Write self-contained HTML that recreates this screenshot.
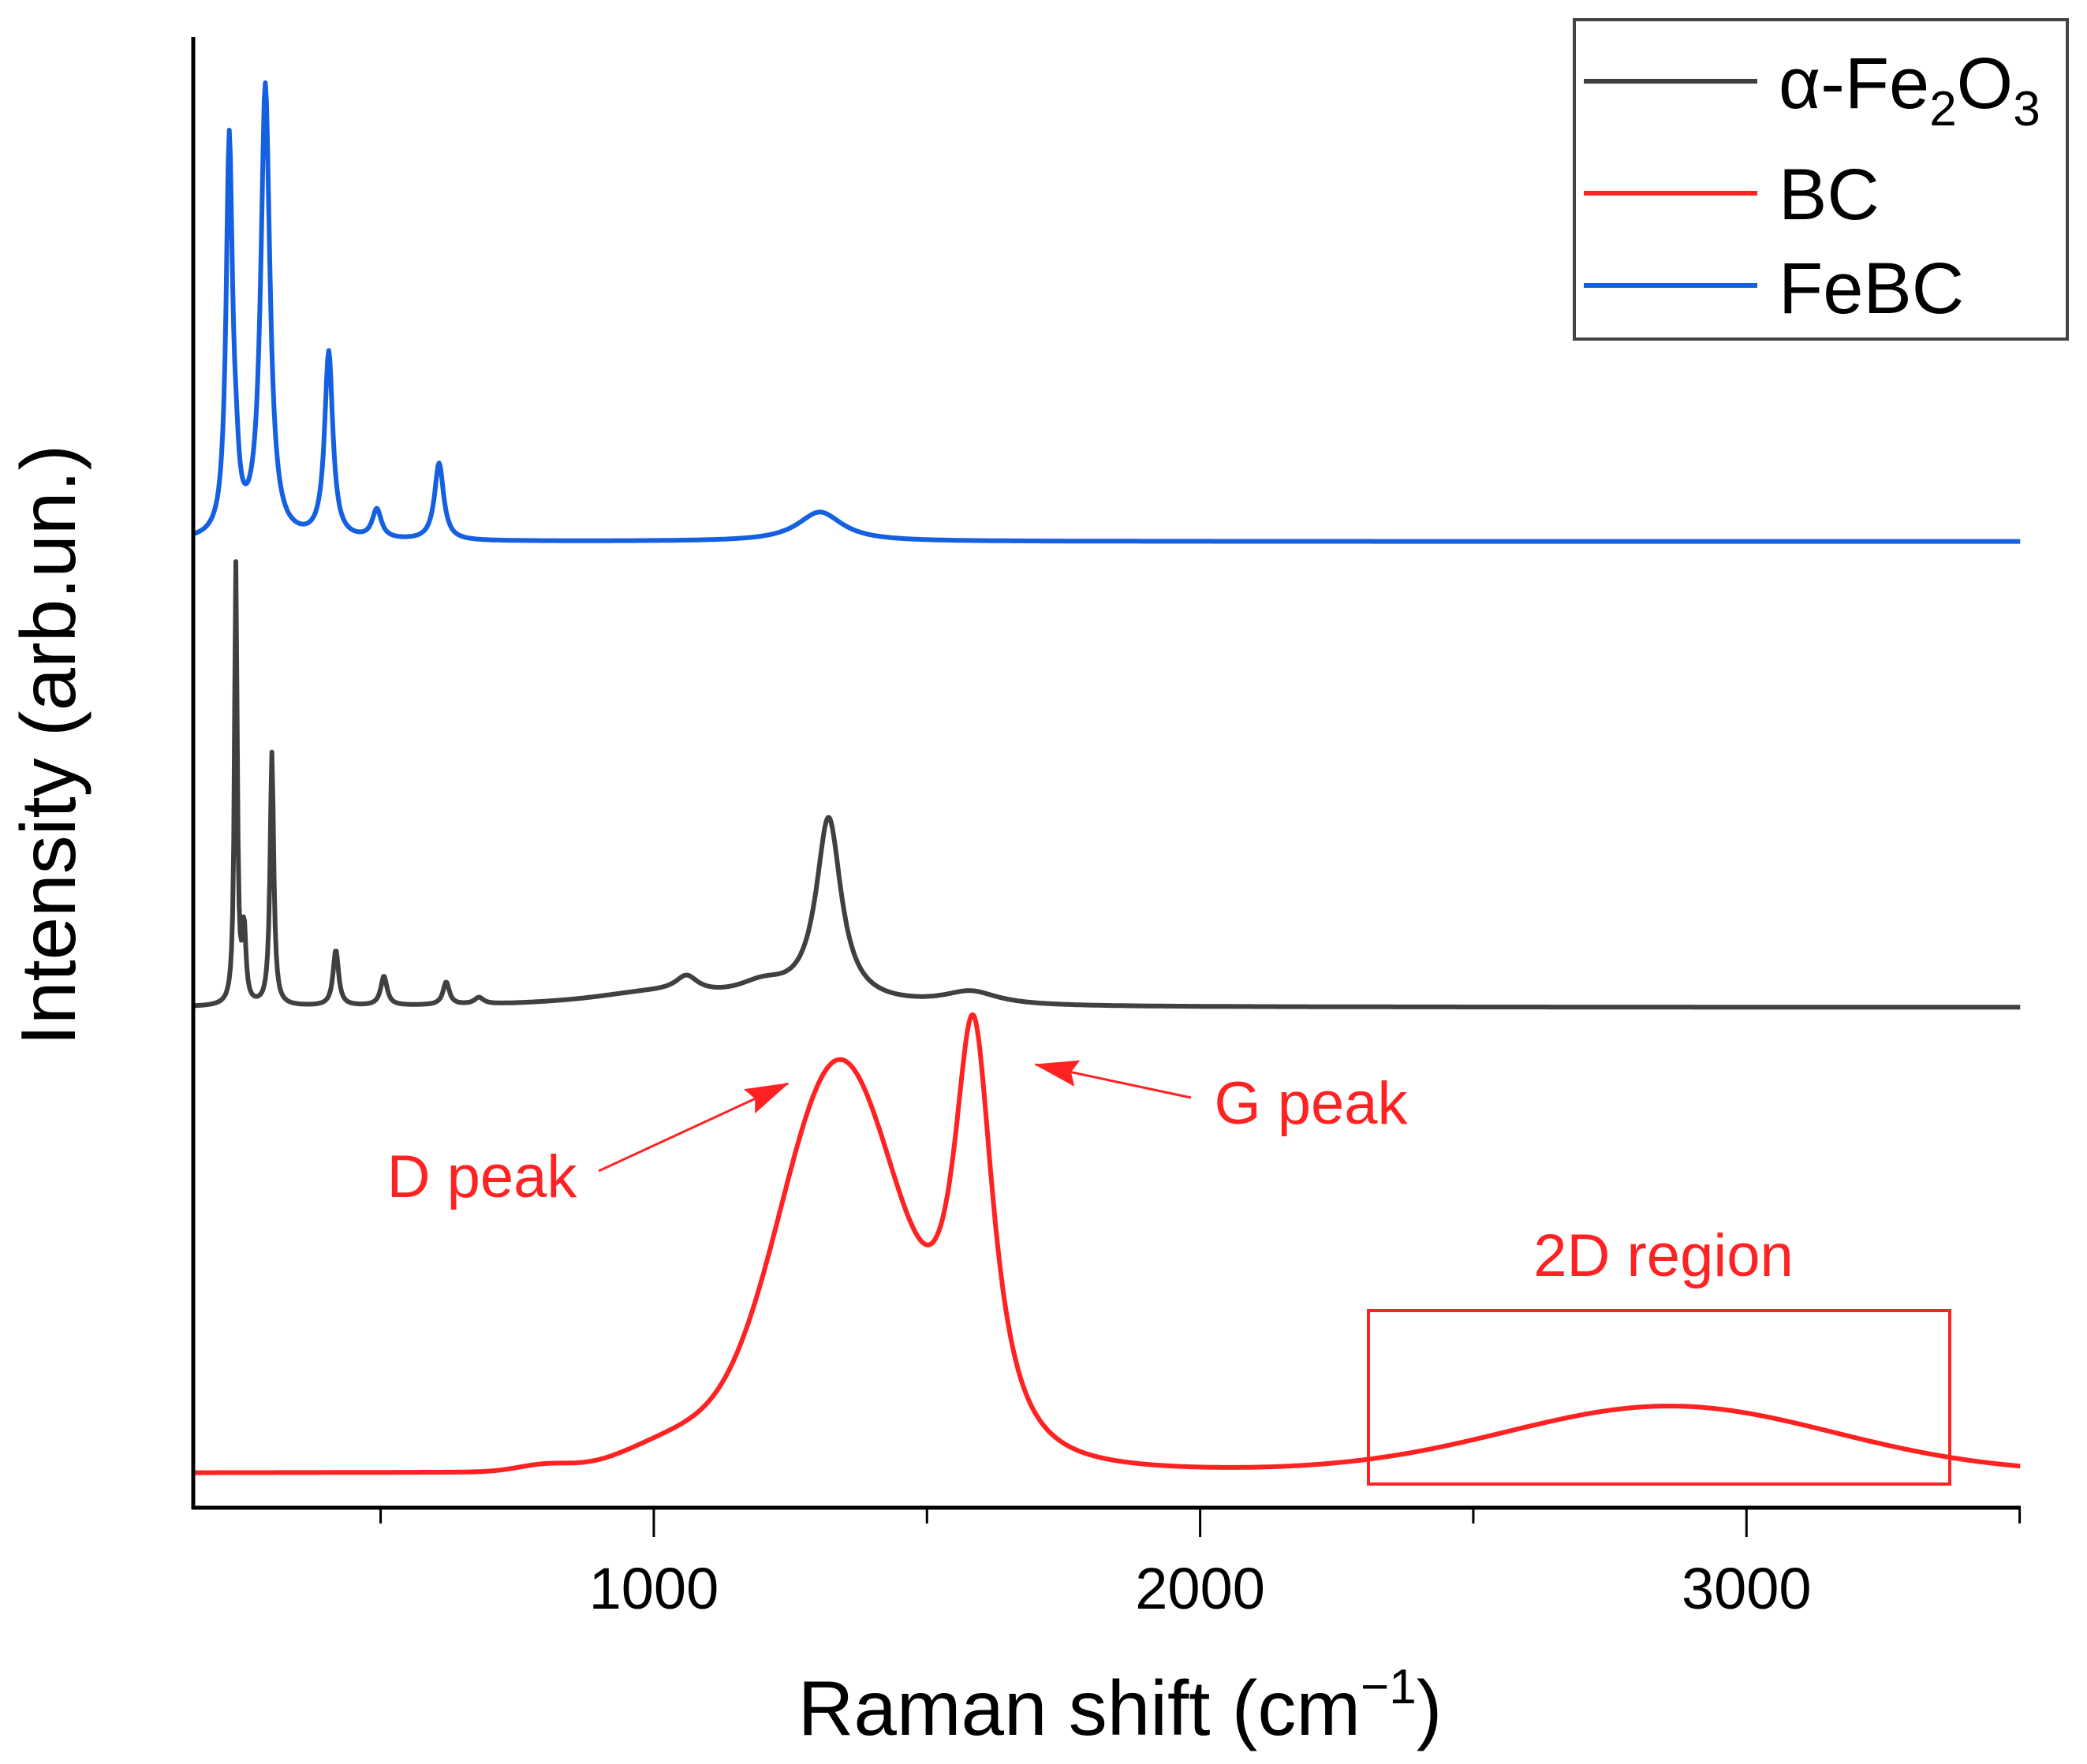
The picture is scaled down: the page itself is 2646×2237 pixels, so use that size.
<!DOCTYPE html>
<html><head><meta charset="utf-8"><style>
html,body{margin:0;padding:0;background:#fff;}
svg{display:block;font-family:"Liberation Sans",Arial,sans-serif;}
</style></head><body>
<svg id="chart" width="2646" height="2237" viewBox="0 0 2646 2237" xmlns="http://www.w3.org/2000/svg">
<defs>
<marker id="arr" markerWidth="56" markerHeight="34" refX="54" refY="17" orient="auto" markerUnits="userSpaceOnUse" viewBox="0 0 56 34"><path d="M0,0 L56,17 L0,34 L8,17 z" fill="#f22"/></marker>
</defs>
<g id="series"></g>
<g id="axes"></g>
<text x="1420" y="2200" font-size="98" text-anchor="middle">Raman shift (cm<tspan font-size="62" dy="-40">−1</tspan><tspan dy="40">)</tspan></text>
<text transform="translate(95,945) rotate(-90)" font-size="98" text-anchor="middle">Intensity (arb.un.)</text>
<g>
<rect x="1996" y="25" width="625" height="405" fill="#fff" stroke="#444" stroke-width="4"/>
<line x1="2008" y1="103" x2="2228" y2="103" stroke="#404040" stroke-width="6"/>
<line x1="2008" y1="245" x2="2228" y2="245" stroke="#f22" stroke-width="6"/>
<line x1="2008" y1="362" x2="2228" y2="362" stroke="#1560e0" stroke-width="6"/>
<text x="2255" y="137" font-size="92">α-Fe<tspan font-size="62" dy="22">2</tspan><tspan dy="-22">O</tspan><tspan font-size="62" dy="22">3</tspan></text>
<text x="2255" y="278" font-size="92">BC</text>
<text x="2255" y="397" font-size="92">FeBC</text>
</g>
<g>
<text x="611" y="1518" font-size="76" fill="#f22" text-anchor="middle">D peak</text>
<line x1="759" y1="1485" x2="999" y2="1374" stroke="#f22" stroke-width="3" marker-end="url(#arr)"/>
<text x="1662" y="1425" font-size="76" fill="#f22" text-anchor="middle">G peak</text>
<line x1="1510" y1="1392" x2="1313" y2="1350" stroke="#f22" stroke-width="3" marker-end="url(#arr)"/>
<text x="2109" y="1618" font-size="76" fill="#f22" text-anchor="middle">2D region</text>
<rect x="1735" y="1662" width="737" height="220" fill="none" stroke="#f22" stroke-width="4"/>
</g>
</svg>
<script>
// x range (cm-1) and y units (arbitrary intensity)
const xDomain = [157, 3502];
const yDomain = [0, 1105];
const xTicksMajor = [1000, 2000, 3000];
const xTickLabels = ["1000", "2000", "3000"];
const xTicksMinor = [500, 1500, 2500, 3500];
// series peaks: centre (cm-1), height, half-width; shape: "l" lorentzian, "g" gaussian
const febcOffset = 726;
const febcCenters = [223, 235, 289, 405, 493, 607, 1304];
const febcHeights = [295, 30, 340, 140, 22, 58, 22];
const febcWidths = [7, 6, 10, 9, 10, 10, 50];
const febcShapes = ["l", "l", "l", "l", "l", "l", "l"];
const fe2o3Offset = 376;
const fe2o3Centers = [235, 250, 301, 418, 506, 620, 680, 1000, 1060, 1200, 1320, 1580];
const fe2o3Heights = [330, 55, 190, 42, 22, 17, 5, 10, 12, 12, 138, 10];
const fe2o3Widths = [3, 4, 4, 6, 7, 7, 10, 150, 25, 60, 28, 60];
const fe2o3Shapes = ["l", "l", "l", "l", "l", "l", "l", "l", "l", "l", "l", "l"];
const bcOffset = 26;
const bcCenters = [1338, 1585, 1050, 2860, 800];
const bcHeights = [300, 320, 25, 50, 5];
const bcWidths = [110, 45, 100, 300, 50];
const bcShapes = ["g", "l", "g", "g", "g"];

const L = 245, R = 2562, B = 1912, T = 47;
function xs(v){ return L + (v - xDomain[0]) / (xDomain[1] - xDomain[0]) * (R - L); }
function ys(v){ return B - (v - yDomain[0]) / (yDomain[1] - yDomain[0]) * (B - T); }
const NS = "http://www.w3.org/2000/svg";
function spectrum(off, c, h, w, s){
  let pts = [];
  for (let x = xDomain[0]; x <= xDomain[1]; x += 2){
    let y = off;
    for (let i = 0; i < c.length; i++){
      const d = (x - c[i]) / w[i];
      y += s[i] === "g" ? h[i] * Math.exp(-d*d/2) : h[i] / (1 + d*d);
    }
    pts.push(xs(x).toFixed(1) + "," + ys(y).toFixed(1));
  }
  return pts.join(" ");
}
const sg = document.getElementById("series");
function addLine(name, pts, color){
  const p = document.createElementNS(NS, "polyline");
  
  
  p.setAttribute("points", pts);
  p.setAttribute("fill", "none");
  p.setAttribute("stroke", color);
  p.setAttribute("stroke-width", "6");
  p.setAttribute("stroke-linejoin", "round");
  sg.appendChild(p);
}
addLine("series-febc", spectrum(febcOffset, febcCenters, febcHeights, febcWidths, febcShapes), "#1560e0");
addLine("series-fe2o3", spectrum(fe2o3Offset, fe2o3Centers, fe2o3Heights, fe2o3Widths, fe2o3Shapes), "#404040");
addLine("series-bc", spectrum(bcOffset, bcCenters, bcHeights, bcWidths, bcShapes), "#f22");

const ax = document.getElementById("axes");
function mk(tag, attrs){ const e = document.createElementNS(NS, tag); for (const k in attrs) e.setAttribute(k, attrs[k]); ax.appendChild(e); return e; }
let e = mk("line", {x1:L, y1:T, x2:L, y2:B+2, stroke:"#000", "stroke-width":5});


e = mk("line", {x1:L-2, y1:B, x2:R, y2:B, stroke:"#000", "stroke-width":5});


xTicksMajor.forEach((v, i) => {
  const t = mk("line", {x1:xs(v), y1:B, x2:xs(v), y2:B+37, stroke:"#000", "stroke-width":3});
  
  
  const lb = mk("text", {x:xs(v), y:2040, "font-size":74, "text-anchor":"middle"});
  
  
  lb.textContent = xTickLabels[i];
});
xTicksMinor.forEach(v => {
  const t = mk("line", {x1:Math.min(xs(v), R), y1:B, x2:Math.min(xs(v), R), y2:B+20, stroke:"#000", "stroke-width":3});
  
  
});
</script>
</body></html>
